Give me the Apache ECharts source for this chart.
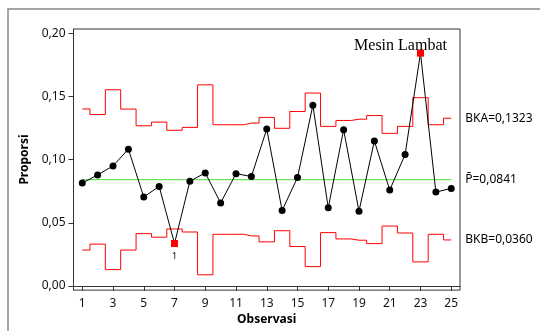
<!DOCTYPE html>
<html>
<head>
<meta charset="utf-8">
<script src="https://cdn.jsdelivr.net/npm/echarts@6/dist/echarts.min.js"></script>
<style>html,body{margin:0;padding:0;background:#fff;}#c{width:540px;height:331px;}</style>
</head>
<body>
<div id="c"></div>
<script>
var observations = [1,2,3,4,5,6,7,8,9,10,11,12,13,14,15,16,17,18,19,20,21,22,23,24,25];
var proportions = [0.0814,0.0879,0.0950,0.1083,0.0704,0.0788,0.0336,0.0829,0.0895,0.0657,0.0889,0.0866,0.1242,0.0597,0.0858,0.1430,0.0618,0.1237,0.0592,0.1148,0.0759,0.1041,0.1843,0.0743,0.0772];
var ucl = [0.1401,0.1357,0.1553,0.1400,0.1268,0.1297,0.1232,0.1255,0.1592,0.1276,0.1276,0.1289,0.1334,0.1248,0.1381,0.1527,0.1263,0.1310,0.1320,0.1349,0.1208,0.1263,0.1490,0.1276,0.1328];
var lcl = [0.0284,0.0331,0.0129,0.0284,0.0414,0.0386,0.0451,0.0427,0.0088,0.0409,0.0409,0.0396,0.0349,0.0437,0.0312,0.0153,0.0422,0.0372,0.0362,0.0335,0.0474,0.0419,0.0190,0.0409,0.0364];
var centerValue = 0.0841;
var outOfControl = [7, 23];
var xTicks = [1,3,5,7,9,11,13,15,17,19,21,23,25];
var yTicks = [0,0.05,0.10,0.15,0.20];
var labelUCL = 'BKA=0,1323';
var labelCL = 'P\u0304=0,0841';
var labelLCL = 'BKB=0,0360';
var annotation = 'Mesin Lambat';
var xTitle = 'Observasi';
var yTitle = 'Proporsi';

var font = 'Noto Sans';
var chart = echarts.init(document.getElementById('c'), null, {renderer: 'canvas'});

var pointData = observations.map(function (x, i) {
  var d = {value: [x, proportions[i]]};
  if (outOfControl.indexOf(x) >= 0) {
    d.symbol = 'rect';
    d.symbolSize = 7;
    d.itemStyle = {color: '#ff0000'};
    if (x === 7) {
      d.label = {show: true, position: 'bottom', distance: 5, formatter: '1', fontSize: 9, color: '#000', fontFamily: font};
    } else {
      d.label = {show: true, position: 'top', distance: 4, offset: [-20, 8], formatter: annotation, fontSize: 16, color: '#000', fontFamily: 'Liberation Serif'};
    }
  }
  return d;
});

var endLab = function (txt) {
  return {show: true, formatter: txt, distance: 14, color: '#000', fontSize: 12, fontFamily: font};
};

chart.setOption({
  animation: false,
  backgroundColor: '#fff',
  grid: {left: 73.5, top: 29, right: 80, bottom: 38.5, show: true, borderColor: '#333', borderWidth: 1, backgroundColor: 'transparent'},
  xAxis: {
    type: 'value', min: 0.43, max: 25.57,
    splitLine: {show: false},
    axisLine: {show: true, lineStyle: {color: '#333'}},
    axisTick: {show: true, length: 5, customValues: xTicks, lineStyle: {color: '#333'}},
    axisLabel: {customValues: xTicks, color: '#111', fontSize: 12, fontFamily: font, margin: 7},
    name: xTitle, nameLocation: 'middle', nameGap: 23,
    nameTextStyle: {fontWeight: 'bold', fontSize: 12, color: '#000', fontFamily: font}
  },
  yAxis: {
    type: 'value', min: -0.0033, max: 0.2034,
    splitLine: {show: false},
    axisLine: {show: true, lineStyle: {color: '#333'}},
    axisTick: {show: true, length: 5, customValues: yTicks, lineStyle: {color: '#333'}},
    axisLabel: {customValues: yTicks, color: '#111', fontSize: 12, fontFamily: font, margin: 8,
      formatter: function (v) { return v.toFixed(2).replace('.', ','); }},
    name: yTitle, nameLocation: 'middle', nameGap: 36,
    nameTextStyle: {fontWeight: 'bold', fontSize: 12, color: '#000', fontFamily: font}
  },
  series: [
    {
      type: 'line', step: 'middle', symbol: 'none', silent: true,
      data: observations.map(function (x, i) { return [x, ucl[i]]; }),
      lineStyle: {color: '#ff0000', width: 1},
      endLabel: endLab(labelUCL)
    },
    {
      type: 'line', step: 'middle', symbol: 'none', silent: true,
      data: observations.map(function (x, i) { return [x, lcl[i]]; }),
      lineStyle: {color: '#ff0000', width: 1},
      endLabel: endLab(labelLCL)
    },
    {
      type: 'line', symbol: 'none', silent: true,
      data: [[observations[0], centerValue], [observations[observations.length - 1], centerValue]],
      lineStyle: {color: '#44dd33', width: 1},
      endLabel: endLab(labelCL)
    },
    {
      type: 'line', symbol: 'circle', symbolSize: 7,
      data: pointData,
      lineStyle: {color: '#000', width: 1},
      itemStyle: {color: '#000'},
      z: 5
    }
  ],
  graphic: [{
    type: 'rect', shape: {x: 8, y: 9, width: 560, height: 360},
    style: {fill: 'none', stroke: '#888', lineWidth: 1.5}, silent: true
  }]
});
</script>
</body>
</html>
